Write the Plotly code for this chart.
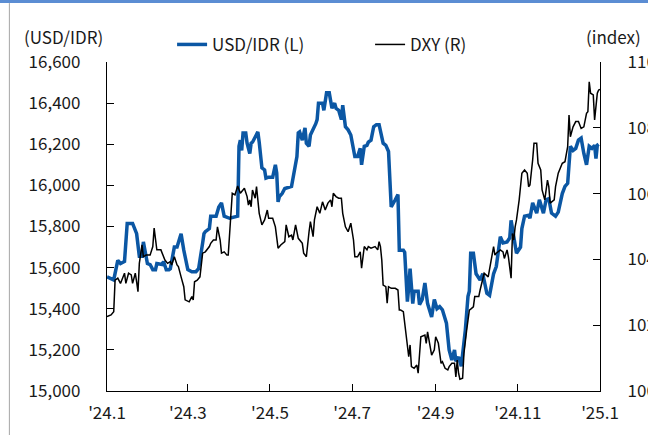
import pandas as pd
import plotly.graph_objects as go

BASE = pd.Timestamp("2024-01-01")

# USD/IDR (left axis): day offset from 2024-01-01, rate
usd_days = [0, 5, 8, 10, 13, 15, 19, 21, 22, 24, 26, 27, 29, 30, 32, 34, 36, 37, 41, 42, 44, 46, 47, 50, 52, 53, 55, 57, 58, 60,
            63, 66, 68, 70, 71, 72, 73, 76, 77, 81, 83, 85, 87, 91, 97, 98, 99, 100, 101, 103, 104, 106, 107, 108, 111, 112, 113, 115, 117, 118,
            120, 123, 125, 126, 127, 128, 130, 132, 137, 139, 141, 142, 143, 145, 146, 147, 148, 150, 151, 153, 155, 156, 157, 160, 161, 163, 165, 167, 169, 170,
            172, 174, 175, 177, 179, 181, 184, 186, 188, 189, 191, 193, 194, 196, 198, 200, 202, 205, 207, 209, 211, 214, 216, 217, 220, 221, 223, 224, 225, 227,
            228, 231, 232, 234, 236, 238, 241, 243, 245, 247, 249, 252, 254, 256, 258, 259, 261, 263, 266, 268, 269, 270, 272, 274, 277, 279, 282, 284, 287, 289,
            292, 294, 297, 299, 300, 302, 304, 307, 308, 310, 313, 314, 316, 319, 321, 324, 326, 328, 330, 333, 335, 338, 340, 342, 343, 344, 346, 348, 350, 352,
            354, 356, 358, 360, 362, 363, 364, 365]
usd_idr = [15555, 15540, 15635, 15620, 15630, 15815, 15815, 15775, 15765, 15655, 15655, 15725, 15655, 15620, 15615, 15590, 15590, 15620, 15615, 15630, 15590, 15590, 15595, 15700, 15700, 15720, 15765, 15685, 15655, 15590,
           15580, 15580, 15595, 15700, 15720, 15765, 15775, 15790, 15850, 15850, 15895, 15915, 15850, 15840, 15850, 16190, 16220, 16170, 16255, 16255, 16205, 16155, 16205, 16210, 16255, 16260, 16210, 16085, 16075, 16035,
           16040, 16040, 16100, 16060, 15920, 15945, 15960, 15985, 15995, 16060, 16140, 16255, 16260, 16220, 16245, 16280, 16205, 16190, 16245, 16270, 16300, 16320, 16400, 16400, 16365, 16450, 16450, 16375, 16400, 16375,
           16365, 16320, 16390, 16285, 16270, 16245, 16140, 16140, 16180, 16100, 16190, 16195, 16210, 16220, 16285, 16295, 16295, 16205, 16195, 16165, 15895, 15930, 15955, 15685, 15685, 15675, 15435, 15505, 15595, 15425,
           15485, 15485, 15420, 15445, 15525, 15425, 15360, 15445, 15400, 15410, 15395, 15330, 15200, 15150, 15200, 15145, 15165, 15120, 15295, 15460, 15485, 15670, 15670, 15570, 15540, 15570, 15475, 15465, 15570, 15605,
           15750, 15720, 15725, 15745, 15830, 15750, 15670, 15700, 15790, 15850, 15855, 15840, 15915, 15865, 15930, 15865, 15930, 15935, 15865, 15850, 15870, 15960, 15995, 16010, 16090, 16190, 16170, 16180, 16220, 16230,
           16155, 16100, 16190, 16180, 16195, 16130, 16195, 16200]

# DXY (right axis): day offset from 2024-01-01, index
dxy_days = [0, 3, 5, 6, 8, 10, 13, 14, 16, 18, 19, 21, 22, 23, 24, 26, 27, 29, 32, 34, 35, 36, 37, 40, 41, 43, 45, 47, 48, 50,
            52, 53, 55, 57, 58, 61, 63, 64, 65, 67, 69, 70, 71, 73, 76, 77, 79, 81, 82, 84, 85, 87, 89, 90, 91, 93, 95, 97, 99, 101,
            102, 104, 105, 106, 107, 108, 110, 111, 113, 115, 117, 119, 120, 123, 125, 127, 129, 132, 133, 135, 137, 138, 140, 142, 143, 145, 146, 148, 150, 151,
            153, 154, 156, 158, 160, 162, 164, 166, 167, 168, 170, 172, 174, 175, 177, 179, 181, 183, 184, 186, 188, 189, 191, 193, 194, 196, 199, 201, 202, 203,
            204, 205, 207, 208, 209, 211, 214, 216, 217, 218, 220, 221, 223, 224, 225, 226, 228, 230, 231, 232, 233, 236, 237, 238, 240, 241, 243, 244, 246, 248,
            249, 251, 253, 254, 256, 258, 259, 260, 261, 262, 264, 265, 267, 269, 270, 272, 273, 276, 277, 279, 280, 283, 285, 287, 288, 289, 292, 294, 295, 297,
            298, 300, 301, 302, 303, 304, 306, 308, 310, 312, 313, 314, 316, 317, 319, 320, 322, 323, 325, 327, 328, 329, 332, 333, 335, 338, 340, 342, 343, 344,
            346, 348, 350, 352, 354, 356, 357, 358, 359, 361, 362, 364, 365, 366]
dxy = [102.26, 102.31, 102.41, 103.37, 103.43, 103.27, 103.58, 103.27, 103.58, 103.53, 103.27, 103.58, 103.32, 103.02, 103.88, 104.44, 104.08, 104.13, 104.13, 104.39, 104.95, 104.59, 104.29, 104.29, 104.19, 103.98, 103.88, 103.93, 103.83, 104.08,
       103.83, 103.78, 103.47, 103.17, 102.77, 102.71, 102.87, 102.77, 103.32, 103.37, 103.47, 103.78, 104.19, 104.23, 104.39, 104.49, 104.59, 104.59, 104.99, 104.59, 104.19, 104.23, 104.13, 104.13, 104.90, 106.01, 105.96, 106.23, 106.01, 106.11,
       106.16, 105.91, 105.65, 105.81, 105.60, 106.11, 105.86, 106.21, 105.40, 105.05, 105.20, 105.50, 105.25, 105.25, 104.99, 104.34, 104.44, 104.54, 105.05, 104.69, 104.74, 104.59, 105.05, 104.64, 104.59, 104.49, 104.19, 104.08, 104.84, 105.15,
       104.69, 105.20, 105.60, 105.40, 105.75, 105.50, 105.71, 105.81, 105.60, 106.01, 105.91, 105.86, 105.86, 105.40, 104.99, 104.84, 105.10, 104.59, 104.08, 104.08, 104.23, 103.73, 104.39, 104.29, 104.39, 104.34, 104.39, 104.29, 104.54, 104.39,
       103.98, 103.22, 103.17, 102.67, 103.17, 103.12, 103.12, 103.07, 102.46, 102.46, 102.41, 102.06, 101.45, 101.04, 101.40, 100.74, 100.69, 100.79, 100.54, 101.04, 101.65, 101.70, 101.45, 101.80, 101.25, 101.09, 101.25, 101.65, 101.45, 100.84,
       100.89, 100.69, 100.64, 100.74, 100.84, 100.84, 100.43, 100.94, 100.54, 100.36, 100.39, 101.15, 101.85, 102.46, 102.49, 102.56, 102.87, 102.87, 103.07, 103.47, 103.58, 103.47, 103.98, 104.39, 104.13, 104.19, 104.29, 104.23, 104.03, 104.29,
       104.08, 103.43, 104.79, 104.59, 104.99, 105.20, 105.81, 106.62, 106.72, 106.62, 106.21, 106.26, 107.02, 107.53, 107.53, 106.92, 106.72, 106.11, 105.81, 106.41, 106.21, 105.71, 105.81, 106.21, 106.62, 106.92, 106.97, 107.43, 108.39, 107.73,
       108.03, 108.19, 108.19, 107.98, 108.03, 108.44, 108.49, 109.40, 109.05, 109.00, 108.24, 109.05, 109.15, 109.17]

x_tick_dates = ["2024-01-01", "2024-03-01", "2024-05-01", "2024-07-01", "2024-09-01", "2024-11-01", "2025-01-01"]
x_tick_labels = ["'24.1", "'24.3", "'24.5", "'24.7", "'24.9", "'24.11", "'25.1"]
left_ticks = [15000, 15200, 15400, 15600, 15800, 16000, 16200, 16400, 16600]
right_ticks = [100, 102, 104, 106, 108, 110]

usd_dates = BASE + pd.to_timedelta(usd_days, unit="D")
dxy_dates = BASE + pd.to_timedelta(dxy_days, unit="D")

FONT = "Noto Sans CJK KR"
TXT = "#1a1a1a"
FS = 17

fig = go.Figure()
fig.add_trace(go.Scatter(x=usd_dates, y=usd_idr, name="USD/IDR (L)", mode="lines",
                         line=dict(color="#0B57A4", width=3.5), yaxis="y"))
fig.add_trace(go.Scatter(x=dxy_dates, y=dxy, name="DXY (R)", mode="lines",
                         line=dict(color="#000000", width=1.5), yaxis="y2"))

axis_common = dict(showgrid=False, zeroline=False, automargin=False,
                   showline=True, linecolor="black", linewidth=1.3,
                   ticks="inside", ticklen=7, tickcolor="black", tickwidth=1.3)

fig.update_layout(
    template="none",
    width=648, height=435,
    margin=dict(l=107, r=48, t=62, b=44, autoexpand=False),
    paper_bgcolor="white", plot_bgcolor="white",
    font=dict(family=FONT, size=FS, color=TXT),
    showlegend=True,
    legend=dict(orientation="h", x=0.132, y=1.052, xanchor="left", yanchor="middle",
                bgcolor="rgba(0,0,0,0)", borderwidth=0,
                font=dict(family=FONT, size=FS, color=TXT),
                entrywidth=153, entrywidthmode="pixels", tracegroupgap=0),
    xaxis=dict(type="date", range=["2024-01-01", "2025-01-01"],
               tickvals=x_tick_dates, ticktext=x_tick_labels,
               tickfont=dict(family=FONT, size=FS, color=TXT), ticklabelstandoff=6,
               **axis_common),
    yaxis=dict(range=[15000, 16600], tickvals=left_ticks, tickformat=",",
               tickfont=dict(family=FONT, size=FS, color=TXT), ticklabelstandoff=22,
               **axis_common),
    yaxis2=dict(range=[100, 110], tickvals=right_ticks, overlaying="y", side="right",
                tickfont=dict(family=FONT, size=FS, color=TXT), ticklabelstandoff=23,
                **axis_common),
    annotations=[
        dict(text="(USD/IDR)", xref="paper", yref="paper", x=-0.1724, y=1.077,
             xanchor="left", yanchor="middle", showarrow=False,
             font=dict(family=FONT, size=FS, color=TXT)),
        dict(text="(index)", xref="paper", yref="paper", x=0.9675, y=1.077,
             xanchor="left", yanchor="middle", showarrow=False,
             font=dict(family=FONT, size=FS, color=TXT)),
    ],
    shapes=[
        dict(type="rect", xref="paper", yref="paper", x0=-0.3, x1=1.2, y0=1.179, y1=1.2,
             fillcolor="#5B8DD3", line=dict(width=0), layer="above"),
        dict(type="line", xref="paper", yref="paper", x0=-0.198, x1=-0.198, y0=-0.2, y1=1.179,
             line=dict(color="#A6A6A6", width=1), layer="above"),
    ],
)

fig.write_html("out.html", config={"displayModeBar": False},
               post_script="document.body.style.margin='0';document.body.style.overflow='hidden';")
